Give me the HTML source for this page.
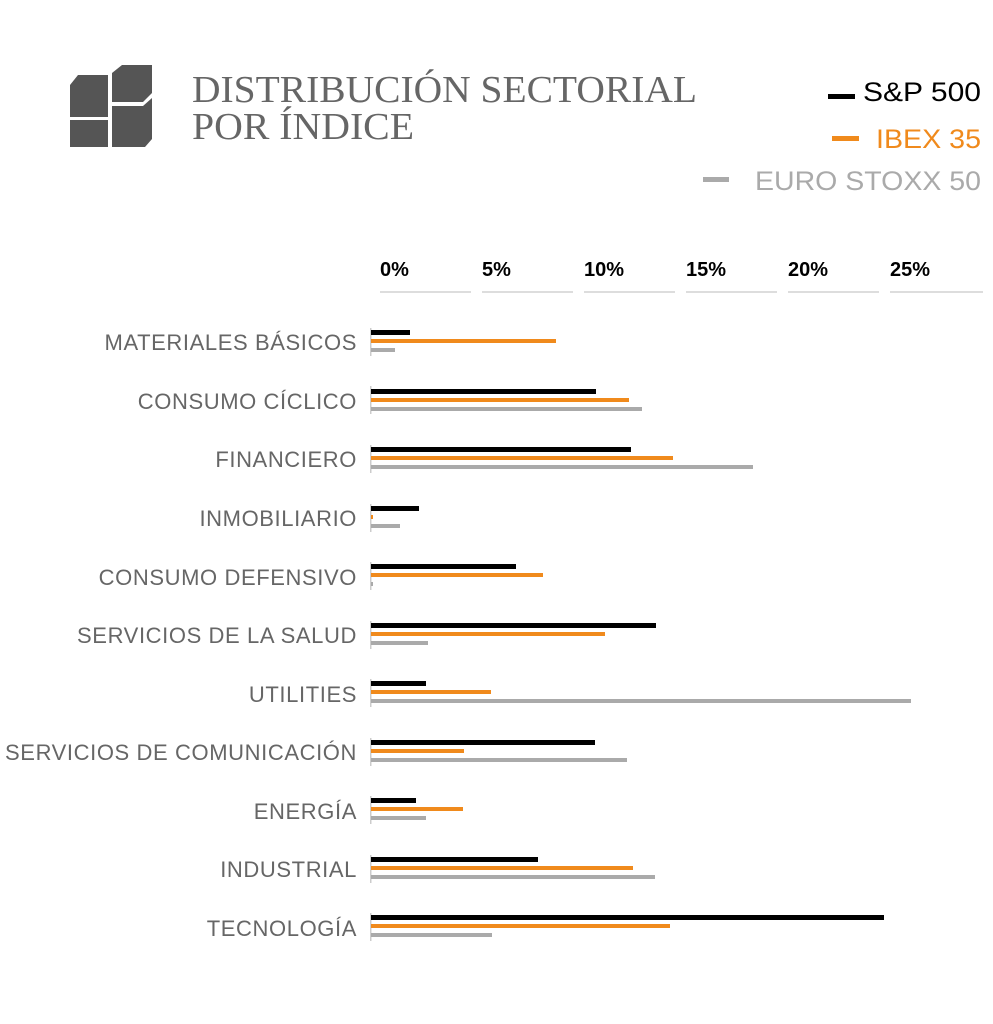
<!DOCTYPE html>
<html><head><meta charset="utf-8"><style>
html,body{margin:0;padding:0;background:#fff;width:993px;height:1024px;overflow:hidden}
</style></head><body>
<svg width="993" height="1024" viewBox="0 0 993 1024" xmlns="http://www.w3.org/2000/svg">
<g fill="#555">
<path d="M70 85 L78 75 L108 75 L108 117 L70 117 Z"/>
<rect x="70" y="120" width="38" height="27"/>
<path d="M112 73 L122 65 L152 65 L152 93 L143 102 L112 102 Z"/>
<path d="M112 106 L143 106 L152 98 L152 139 L145 147 L112 147 Z"/>
</g>
<g font-family="'Liberation Serif',serif" fill="#666" font-size="38">
<text x="192" y="102" textLength="505" lengthAdjust="spacingAndGlyphs">DISTRIBUCIÓN SECTORIAL</text>
<text x="192" y="139" textLength="222" lengthAdjust="spacingAndGlyphs">POR ÍNDICE</text>
</g>
<g font-family="'Liberation Sans',sans-serif" font-size="27" text-anchor="end">
<rect x="828" y="94" width="27" height="5" fill="#000"/>
<text x="981" y="101" fill="#000" textLength="118" lengthAdjust="spacingAndGlyphs">S&amp;P 500</text>
<rect x="832" y="136" width="27" height="5" fill="#f08a1c"/>
<text x="981" y="148" fill="#f08a1c" textLength="105" lengthAdjust="spacingAndGlyphs">IBEX 35</text>
<rect x="703" y="177" width="26" height="5" fill="#aaa"/>
<text x="981" y="190" fill="#aaa" textLength="226" lengthAdjust="spacingAndGlyphs">EURO STOXX 50</text>
</g>
<g font-family="'Liberation Sans',sans-serif" font-size="20" font-weight="bold" fill="#000">
<text x="380" y="276">0%</text><text x="482" y="276">5%</text><text x="584" y="276">10%</text>
<text x="686" y="276">15%</text><text x="788" y="276">20%</text><text x="890" y="276">25%</text>
</g>
<g fill="#ddd">
<rect x="380" y="291" width="91" height="2"/><rect x="482" y="291" width="91" height="2"/>
<rect x="584" y="291" width="91" height="2"/><rect x="686" y="291" width="91" height="2"/>
<rect x="788" y="291" width="91" height="2"/><rect x="890" y="291" width="93" height="2"/>
</g>
<g font-family="'Liberation Sans',sans-serif" font-size="22" fill="#666" text-anchor="end" letter-spacing="0.6">
<text x="357" y="350">MATERIALES BÁSICOS</text>
<text x="357" y="409">CONSUMO CÍCLICO</text>
<text x="357" y="467">FINANCIERO</text>
<text x="357" y="526">INMOBILIARIO</text>
<text x="357" y="585">CONSUMO DEFENSIVO</text>
<text x="357" y="643">SERVICIOS DE LA SALUD</text>
<text x="357" y="702">UTILITIES</text>
<text x="357" y="760">SERVICIOS DE COMUNICACIÓN</text>
<text x="357" y="819">ENERGÍA</text>
<text x="357" y="877">INDUSTRIAL</text>
<text x="357" y="936">TECNOLOGÍA</text>
</g>
<g>
<g fill="#ccc">
<rect x="370" y="328" width="1.5" height="28"/><rect x="370" y="386" width="1.5" height="28"/>
<rect x="370" y="445" width="1.5" height="28"/><rect x="370" y="504" width="1.5" height="28"/>
<rect x="370" y="562" width="1.5" height="28"/><rect x="370" y="621" width="1.5" height="28"/>
<rect x="370" y="679" width="1.5" height="28"/><rect x="370" y="738" width="1.5" height="28"/>
<rect x="370" y="796" width="1.5" height="28"/><rect x="370" y="855" width="1.5" height="28"/>
<rect x="370" y="913" width="1.5" height="28"/>
</g>
<g fill="#000">
<rect x="371" y="330" width="39" height="5"/><rect x="371" y="389" width="225" height="5"/>
<rect x="371" y="447" width="260" height="5"/><rect x="371" y="506" width="48" height="5"/>
<rect x="371" y="564" width="145" height="5"/><rect x="371" y="623" width="285" height="5"/>
<rect x="371" y="681" width="55" height="5"/><rect x="371" y="740" width="224" height="5"/>
<rect x="371" y="798" width="45" height="5"/><rect x="371" y="857" width="167" height="5"/>
<rect x="371" y="915" width="513" height="5"/>
</g>
<g fill="#f08a1c">
<rect x="371" y="339" width="185" height="4"/><rect x="371" y="398" width="258" height="4"/>
<rect x="371" y="456" width="302" height="4"/><rect x="371" y="515" width="2" height="4"/>
<rect x="371" y="573" width="172" height="4"/><rect x="371" y="632" width="234" height="4"/>
<rect x="371" y="690" width="120" height="4"/><rect x="371" y="749" width="93" height="4"/>
<rect x="371" y="807" width="92" height="4"/><rect x="371" y="866" width="262" height="4"/>
<rect x="371" y="924" width="299" height="4"/>
</g>
<g fill="#aaa">
<rect x="371" y="348" width="24" height="4"/><rect x="371" y="407" width="271" height="4"/>
<rect x="371" y="465" width="382" height="4"/><rect x="371" y="524" width="29" height="4"/>
<rect x="371" y="582" width="2" height="4"/><rect x="371" y="641" width="57" height="4"/>
<rect x="371" y="699" width="540" height="4"/><rect x="371" y="758" width="256" height="4"/>
<rect x="371" y="816" width="55" height="4"/><rect x="371" y="875" width="284" height="4"/>
<rect x="371" y="933" width="121" height="4"/>
</g>
</g>
</svg>
</body></html>
